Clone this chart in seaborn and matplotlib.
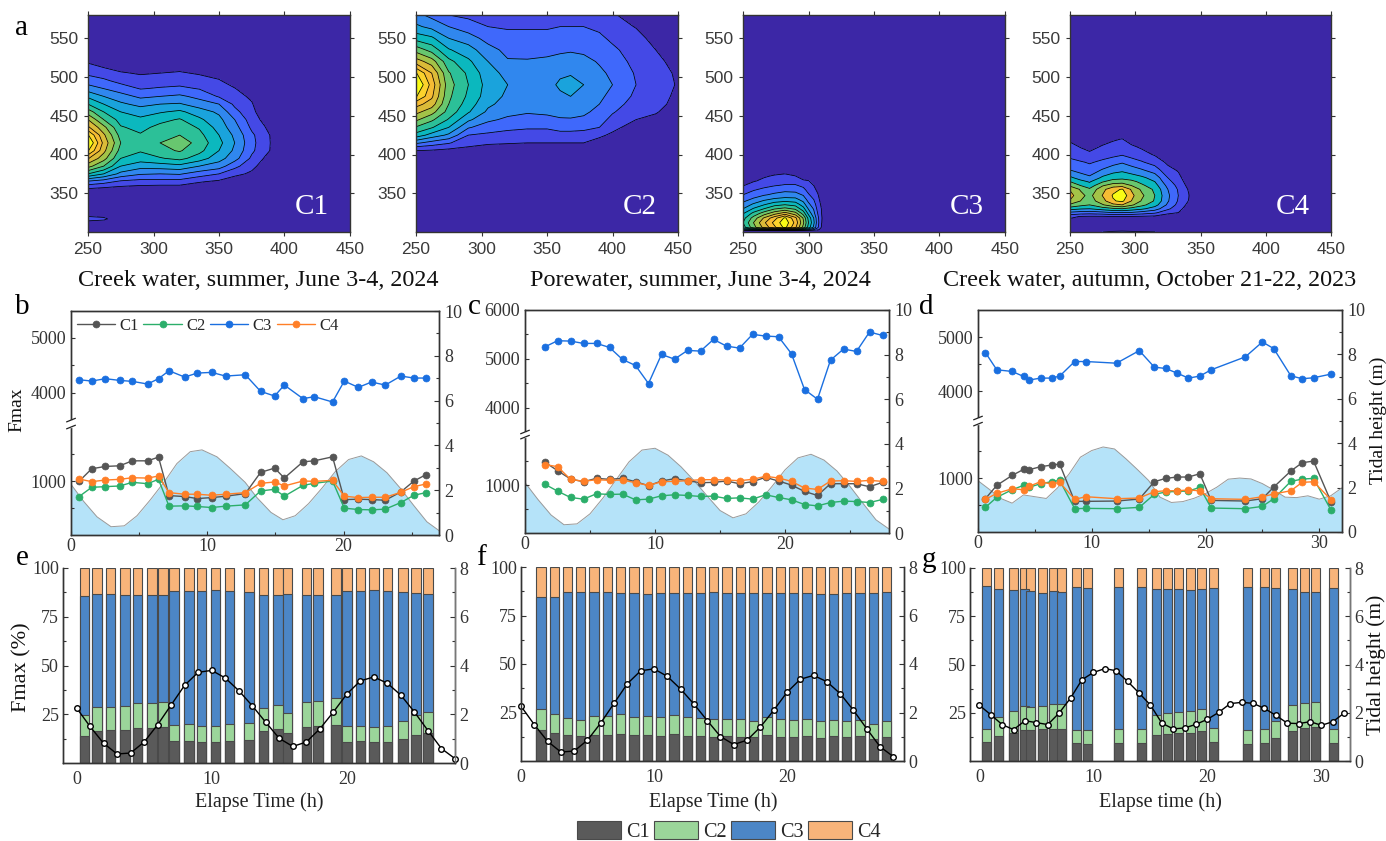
import matplotlib
matplotlib.use('Agg')
import matplotlib.pyplot as plt
from matplotlib.patches import Patch
import numpy as np
import seaborn as sns

W, H = 1386, 841

# ---- EEM surfaces (columns = excitation, in level units)
c1_ex = [250, 262, 275, 290, 305, 320, 335, 350, 362, 375, 385, 395, 450]
c1_em = [300, 310, 317, 325, 345, 355, 365, 375, 385, 395, 405, 415, 425, 435, 445, 455, 465, 475, 485, 495, 505, 515, 525, 580]
c1_z = [
    [0, 0, 1.6, 0, 0, .8, 2.8, 6, 8.4, 10.1, 12.1, 13.2, 12.1, 10.2, 9, 7.5, 6, 4.8, 3.5, 2.5, 1.8, 1.2, .5, 0],
    [0, 0, 1.3, 0, 0, .6, 2.4, 5, 7, 8.4, 9.3, 9.7, 9.2, 8.3, 7, 6, 5, 4, 3, 2.2, 1.5, .8, .2, 0],
    [0, 0, 0, 0, 0, .5, 1.8, 3.7, 5, 6, 6.6, 7, 6.6, 6.1, 5.6, 5, 4.2, 3.4, 2.5, 1.7, 1.1, .5, 0, 0],
    [0, 0, 0, 0, 0, .4, 1.6, 3.1, 4.4, 5.5, 6.1, 6.4, 6.1, 5.7, 5.2, 4.6, 3.7, 2.8, 1.95, 1.4, .9, .3, 0, 0],
    [0, 0, 0, 0, 0, .3, 1.6, 3, 4.5, 5.9, 6.7, 7, 6.7, 6.3, 5.7, 4.9, 4, 3, 2.1, 1.5, 1, .5, 0, 0],
    [0, 0, 0, 0, 0, .3, 1.6, 3.1, 4.7, 6.3, 7.1, 7.6, 7, 6.5, 6.1, 5.2, 4.1, 3.2, 2.2, 1.6, 1.1, .6, 0, 0],
    [0, 0, 0, 0, 0, .1, 1.1, 2.5, 4, 5.5, 6.3, 6.6, 6.3, 5.9, 5.2, 4.5, 3.5, 2.7, 1.95, 1.4, .9, .3, 0, 0],
    [0, 0, 0, 0, 0, 0, .8, 2, 3.5, 4.4, 5, 5.3, 5, 4.6, 4.3, 3.8, 3, 1.9, 1.5, 1.1, .6, .1, 0, 0],
    [0, 0, 0, 0, 0, 0, .3, 1.3, 2.3, 3.4, 3.8, 4, 3.8, 3.4, 3, 2.3, 1.8, 1.4, 1.05, .5, 0, 0, 0, 0],
    [0, 0, 0, 0, 0, 0, 0, .8, 1.3, 1.8, 2.2, 2.3, 2.2, 1.8, 1.5, 1.3, 1.1, .8, .3, 0, 0, 0, 0, 0],
    [0, 0, 0, 0, 0, 0, 0, .1, .5, .9, 1.3, 1.35, 1.3, 1.05, .7, .3, 0, 0, 0, 0, 0, 0, 0, 0],
    [0, 0, 0, 0, 0, 0, 0, 0, 0, 0, .5, .5, .5, 0, 0, 0, 0, 0, 0, 0, 0, 0, 0, 0],
    [0, 0, 0, 0, 0, 0, 0, 0, 0, 0, 0, 0, 0, 0, 0, 0, 0, 0, 0, 0, 0, 0, 0, 0],
]

c2_ex = [250, 262, 275, 290, 305, 320, 335, 350, 360, 368, 378, 390, 400, 418, 433, 447, 450]
c2_em = [300, 400, 405, 410, 415, 425, 435, 445, 455, 465, 475, 490, 505, 520, 535, 550, 565, 580]
c2_z = [
    [0, 0, 1, 2, 3.2, 5.6, 6.9, 8.2, 9.3, 10.4, 12.1, 13.2, 12.1, 9.5, 7.6, 5.6, 4.2, 3.3],
    [0, 0, .9, 1.7, 2.6, 4.6, 6.1, 7.2, 8.4, 9.5, 10.2, 10.6, 10, 8.5, 6.6, 5.2, 3.7, 2.7],
    [0, 0, .7, 1.4, 2.1, 3.8, 5, 5.9, 6.6, 7, 7.2, 7.4, 7.1, 6.3, 5.1, 4, 3, 2],
    [0, 0, .4, 1, 1.3, 2, 3.1, 4.2, 5.1, 5.5, 5.8, 6, 5.8, 5.2, 4.4, 3.5, 2.4, 1.8],
    [0, 0, 0, .7, 1.2, 1.8, 2.5, 3.2, 3.8, 4.2, 4.5, 4.6, 4.4, 4, 3.4, 2.6, 2, 1.7],
    [0, 0, 0, .6, 1.1, 1.7, 2.2, 2.8, 3.3, 3.6, 3.8, 4, 3.7, 3.1, 2.7, 2.3, 1.9, 1.6],
    [0, 0, 0, .5, 1, 1.6, 2.1, 2.6, 3.1, 3.4, 3.6, 3.7, 3.5, 3.1, 2.6, 2.3, 1.9, 1.6],
    [0, 0, 0, .5, 1, 1.6, 2.1, 2.7, 3.2, 3.5, 3.7, 3.8, 3.6, 3.2, 2.7, 2.3, 1.9, 1.6],
    [0, 0, 0, .5, 1, 1.7, 2.3, 2.9, 3.3, 3.6, 3.9, 4.1, 3.9, 3.4, 2.8, 2.4, 2, 1.6],
    [0, 0, 0, .5, 1, 1.7, 2.3, 2.9, 3.4, 3.7, 4, 4.4, 3.9, 3.4, 2.9, 2.4, 2, 1.6],
    [0, 0, 0, .5, 1, 1.7, 2.2, 2.8, 3.2, 3.5, 3.8, 4, 3.8, 3.3, 2.8, 2.4, 2, 1.5],
    [0, 0, 0, 0, .6, 1.2, 2, 2.4, 2.7, 3, 3.2, 3.4, 3.2, 2.9, 2.5, 2.2, 1.8, 1.3],
    [0, 0, 0, 0, .2, .8, 1.3, 1.7, 2.1, 2.4, 2.7, 3, 2.8, 2.5, 2.2, 1.8, 1.4, 1.1],
    [0, 0, 0, 0, 0, 0, .5, 1, 1.3, 1.6, 1.8, 2, 1.9, 1.7, 1.5, 1.3, .95, .6],
    [0, 0, 0, 0, 0, 0, .4, .7, 1.1, 1.3, 1.4, 1.5, 1.4, 1.2, 1, .7, .4, .2],
    [0, 0, 0, 0, 0, 0, 0, .2, .5, .8, .9, 1.02, .95, .8, .6, .3, .1, 0],
    [0, 0, 0, 0, 0, 0, 0, .1, .4, .7, .8, .9, .8, .7, .5, .2, 0, 0],
]

c3_ex = [250, 258, 266, 274, 282, 290, 296, 300, 304, 307, 310, 316, 450]
c3_em = [301.5, 303, 306, 312, 318, 324, 330, 336, 342, 348, 354, 360, 366, 372, 378, 390, 580]
c3_z = [
    [0, 3, 5.5, 6, 5.6, 4.9, 4, 3.3, 2.6, 2, 1.5, .95, .5, 0, 0, 0, 0],
    [0, 4, 7.6, 8, 7.4, 6.3, 5.1, 4.1, 3.2, 2.5, 1.95, 1.4, .9, .4, 0, 0, 0],
    [0, 5, 9.3, 9.8, 9.1, 7.5, 6, 4.8, 3.8, 2.9, 2.3, 1.7, 1.2, .9, .3, 0, 0],
    [0, 6, 10.8, 11.3, 10.6, 8.6, 6.9, 5.5, 4.2, 3.2, 2.6, 1.95, 1.5, 1.1, .7, 0, 0],
    [0, 7, 12.3, 12.7, 12.2, 9.5, 7.3, 5.8, 4.4, 3.4, 2.8, 2.1, 1.6, 1.2, .8, 0, 0],
    [0, 6, 10.2, 10.7, 10.3, 8.4, 6.8, 5.5, 4.3, 3.4, 2.7, 2.1, 1.6, 1.05, .3, 0, 0],
    [0, 4, 7.7, 8.2, 7.9, 6.6, 5.4, 4.4, 3.6, 2.9, 2.3, 1.8, 1.2, .3, 0, 0, 0],
    [0, 3, 5.6, 6, 5.7, 4.7, 3.9, 3.2, 2.6, 2.1, 1.7, 1.35, 1.05, 0, 0, 0, 0],
    [0, 2, 3.8, 4.2, 4, 3.3, 2.9, 2.4, 2, 1.6, 1.3, 1, .5, 0, 0, 0, 0],
    [0, 1.3, 2.2, 2.4, 2.3, 2, 1.7, 1.5, 1.3, 1.1, .8, .4, 0, 0, 0, 0, 0],
    [0, .5, .9, 1.02, 1.05, 1, .95, .8, .6, .4, .2, 0, 0, 0, 0, 0, 0],
    [0, 0, 0, 0, 0, 0, 0, 0, 0, 0, 0, 0, 0, 0, 0, 0, 0],
    [0, 0, 0, 0, 0, 0, 0, 0, 0, 0, 0, 0, 0, 0, 0, 0, 0],
]

c4_ex = [250, 258, 265, 275, 283, 290, 297, 305, 315, 325, 333, 341, 345, 450]
c4_em = [300, 305, 315, 320, 325, 330, 335, 340, 347, 355, 360, 365, 370, 380, 390, 400, 410, 420, 430, 580]
c4_z = [
    [0, 0, .7, 1.3, 2.8, 4.4, 5.8, 6.9, 7.4, 6.9, 5.8, 5, 4.2, 3, 2.3, 1.7, 1.3, .8, 0, 0],
    [0, 0, .3, .95, 2.6, 4.1, 5.3, 6, 6.3, 5.9, 5, 4.3, 3.6, 2.6, 2.1, 1.4, .95, .4, 0, 0],
    [0, 0, .3, .9, 2.5, 4, 5, 5.5, 5.7, 5.2, 4.4, 3.9, 3.2, 2.4, 1.9, 1.2, .7, .2, 0, 0],
    [1, 0, .4, .9, 2.7, 4.5, 5.9, 6.6, 7.05, 6.7, 5.9, 4.9, 4.2, 3.1, 2.2, 1.6, 1.1, .6, 0, 0],
    [1.2, 0, .5, 1, 3, 4.8, 6.7, 7.9, 8.1, 7.7, 6.5, 5.5, 4.6, 3.6, 2.6, 1.7, 1.25, .9, 0, 0],
    [1.3, 0, .5, 1, 3, 5, 7, 8.2, 8.7, 8.1, 6.6, 5.6, 4.7, 3.8, 2.9, 1.9, 1.4, 1.02, 0, 0],
    [1.2, 0, .5, .95, 2.9, 4.6, 6.2, 7, 7.3, 6.9, 6, 5.3, 4.5, 3.5, 2.5, 1.6, 1.15, .6, 0, 0],
    [1.1, 0, .4, .9, 2.6, 4.2, 5.3, 5.9, 6.2, 5.8, 5.2, 4.7, 4.2, 3.1, 2.1, 1.35, .85, .2, 0, 0],
    [1.05, 0, 0, .8, 2.2, 3.5, 4.4, 4.9, 5, 4.8, 4.4, 4, 3.6, 2.5, 1.6, .9, .4, 0, 0, 0],
    [0, 0, 0, .4, 1.3, 2.2, 2.8, 3.1, 3.2, 3, 2.7, 2.3, 2, 1.3, .8, .3, 0, 0, 0, 0],
    [0, 0, 0, 0, 1, 1.4, 1.7, 1.9, 2, 1.9, 1.7, 1.5, 1.3, .9, .4, 0, 0, 0, 0, 0],
    [0, 0, 0, 0, 0, .4, .7, .95, 1.05, .9, .7, .5, .3, 0, 0, 0, 0, 0, 0, 0],
    [0, 0, 0, 0, 0, 0, 0, 0, 0, 0, 0, 0, 0, 0, 0, 0, 0, 0, 0, 0],
    [0, 0, 0, 0, 0, 0, 0, 0, 0, 0, 0, 0, 0, 0, 0, 0, 0, 0, 0, 0],
]

# ---- tide
tide_summer = [2.26, 1.5, .81, .37, .41, .86, 1.57, 2.38, 3.19, 3.72, 3.8, 3.49, 2.97, 2.35, 1.67, 1.01, .68, .86, 1.4,
               2.09, 2.83, 3.37, 3.53, 3.27, 2.78, 2.09, 1.33, .59, .18]
tide_hours_e = list(range(29))
tide_hours_b = [0, .93, 1.91, 2.94, 3.91, 4.84, 5.82, 6.85, 7.77, 8.75, 9.61, 10.71, 11.69, 12.78, 13.64, 14.67, 15.55,
                16.45, 17.43, 18.41, 19.39, 20.37, 21.3, 22.2, 23.18, 24.16, 25.13, 26.11, 27.04]
tide_autumn = [2.31, 1.92, 1.51, 1.3, 1.67, 1.59, 1.51, 1.99, 2.61, 3.37, 3.67, 3.83, 3.74, 3.3, 2.82, 2.32, 1.57, 1.33,
               1.37, 1.52, 1.73, 2.02, 2.38, 2.43, 2.39, 2.18, 1.89, 1.57, 1.55, 1.63, 1.48, 1.63, 1.99]
tide_hours_g = list(range(33))

# ---- Fmax, creek water summer (b)
b_hours = [.59, 1.52, 2.52, 3.57, 4.5, 5.62, 6.42, 7.19, 8.34, 9.27, 10.32, 11.34, 12.79, 13.91, 14.94, 15.65, 17.02,
           17.85, 19.19, 20.05, 21.08, 22.05, 23.06, 24.2, 25.16, 26.04]
b_c1 = [994, 1227, 1270, 1282, 1374, 1374, 1442, 730, 712, 675, 693, 718, 767, 1160, 1239, 1055, 1356, 1374, 1448, 656,
        663, 656, 644, 798, 1000, 1117]
b_c2 = [712, 883, 896, 908, 975, 951, 1031, 534, 540, 528, 509, 534, 558, 816, 847, 718, 920, 957, 1000, 497, 472, 466,
        479, 601, 736, 785]
b_c3 = [4236, 4212, 4255, 4224, 4206, 4158, 4255, 4400, 4285, 4358, 4370, 4303, 4327, 4024, 3939, 4139, 3891, 3927,
        3830, 4212, 4097, 4194, 4139, 4303, 4267, 4267]
b_c4 = [1037, 988, 1018, 1031, 1061, 1055, 1092, 785, 755, 755, 736, 755, 785, 957, 982, 908, 1000, 994, 1012, 718, 693,
        699, 699, 791, 896, 945]

# ---- Fmax, porewater summer (c)
c_hours = [1.5, 2.5, 3.5, 4.5, 5.5, 6.5, 7.5, 8.5, 9.5, 10.5, 11.5, 12.5, 13.5, 14.5, 15.5, 16.5, 17.5, 18.5, 19.5, 20.5,
           21.5, 22.5, 23.5, 24.5, 25.5, 26.5, 27.5]
c_c1 = [1483, 1301, 1126, 1070, 1140, 1119, 1140, 1070, 986, 1084, 1133, 1091, 1049, 1056, 1084, 1028, 1070, 1161, 1084,
        1000, 867, 783, 1028, 1028, 1028, 965, 1056]
c_c2 = [1021, 874, 741, 706, 818, 804, 811, 692, 706, 776, 797, 783, 762, 769, 720, 734, 706, 797, 741, 692, 594, 566,
        636, 664, 657, 636, 699]
c_c3 = [5240, 5370, 5363, 5315, 5315, 5233, 4986, 4863, 4493, 5089, 4993, 5171, 5158, 5397, 5260, 5219, 5500, 5466, 5452,
        5103, 4370, 4171, 4973, 5199, 5151, 5548, 5479]
c_c4 = [1427, 1385, 1119, 1077, 1112, 1098, 1105, 1049, 993, 1070, 1077, 1091, 1112, 1112, 1105, 1091, 1119, 1182, 1147,
        1077, 937, 909, 1084, 1091, 1077, 1098, 1077]

# ---- Fmax, creek water autumn (d)
d_hours = [.65, 1.65, 3.0, 4.0, 4.47, 5.5, 6.47, 7.18, 8.5, 9.47, 12.18, 14.18, 15.5, 16.5, 17.5, 18.5, 19.5, 20.5, 23.5,
           25.0, 26.0, 27.5, 28.5, 29.5, 31.03]
d_c1 = [617, 864, 1049, 1160, 1154, 1210, 1241, 1259, 568, 568, 574, 611, 932, 994, 1019, 1019, 1080, 586, 574, 617, 833,
        1130, 1284, 1315, 562]
d_c2 = [457, 642, 784, 864, 827, 895, 932, 957, 432, 438, 432, 457, 698, 741, 753, 759, 827, 444, 432, 475, 617, 938, 981,
        994, 407]
d_c3 = [4712, 4393, 4362, 4270, 4202, 4239, 4239, 4276, 4546, 4546, 4515, 4748, 4442, 4417, 4331, 4239, 4276, 4393, 4632,
        4908, 4785, 4282, 4227, 4245, 4313]
d_c4 = [605, 716, 802, 784, 846, 932, 889, 920, 605, 654, 617, 630, 747, 765, 765, 778, 765, 617, 605, 654, 704, 765, 920,
        932, 599]

# ---- cumulative percentages (top of C1, of C1+C2, of C1+C2+C3)
e_hours = [.59, 1.51, 2.52, 3.58, 4.52, 5.6, 6.4, 7.2, 8.32, 9.26, 10.3, 11.33, 12.77, 13.85, 14.91, 15.6, 17.0, 17.85,
           19.19, 20.0, 21.0, 22.0, 23.0, 24.17, 25.1, 26.0]
e_top1 = [14, 16.6, 17, 17, 18, 18, 18.3, 11.3, 11.3, 10.8, 11, 11.3, 11.8, 16.4, 17.5, 15.4, 18.7, 18.8, 19.5, 11, 11.3,
          10.8, 10.8, 12.3, 14.4, 15.4]
e_top2 = [24.5, 28.6, 28.6, 29.1, 30.7, 30.7, 31.3, 19.4, 19.9, 18.8, 18.8, 19.9, 20.4, 28.1, 29.5, 25.5, 31.5, 31.7, 33.2,
          18.8, 18.8, 18.3, 18.8, 21.4, 24.8, 26.4]
e_top3 = [85.4, 86.8, 86.5, 86.3, 86.3, 86.3, 86.3, 88.2, 88.4, 88.4, 88.9, 88.4, 87.9, 86.3, 86.3, 86.8, 86.3, 86.3, 86.3,
          88.4, 88.4, 88.5, 88.4, 87.9, 87.3, 86.8]

f_hours = c_hours
f_top1 = [16, 14.4, 13.4, 13, 13.4, 13.4, 14, 13.4, 13.4, 13, 13.9, 13, 12.9, 12.5, 12.9, 12.2, 12.5, 13.4, 12.5, 12.4,
          12.7, 11.9, 12.9, 12.5, 12.9, 11.3, 12.4]
f_top2 = [26.8, 24.2, 22.2, 21.3, 23.2, 23, 24.2, 22.7, 23.2, 22.7, 23.7, 22.7, 22.2, 21.6, 21.6, 21.6, 20.6, 22.5, 21.5,
          21.1, 21.6, 20.6, 21.1, 20.8, 21, 19.1, 20.8]
f_top3 = [84.7, 84.7, 86.9, 87.1, 87.1, 86.9, 86.6, 86.6, 86.3, 86.8, 86.6, 86.6, 86.6, 86.9, 86.6, 86.6, 86.8, 86.6, 86.6,
          86.6, 86.4, 86.1, 86.1, 86.6, 86.6, 86.8, 87.3]

g_hours = d_hours
g_top1 = [9.8, 13, 14.7, 16.1, 16.1, 16.4, 16.6, 16.8, 9.3, 9, 9.3, 9.3, 13.5, 14, 14.5, 14.7, 15.5, 9.7, 9, 9.3, 11.9,
          15.5, 17.1, 17.4, 9.3]
g_top2 = [16.6, 22.6, 25.7, 28.3, 27.8, 28.7, 29.5, 29.5, 16.2, 15.9, 16.4, 16.4, 23.7, 24.7, 25.4, 25.7, 26.9, 16.9, 15.9,
          16.4, 20.6, 28.8, 30, 30.4, 16.4]
g_top3 = [90.5, 89.1, 88.6, 89.1, 88.1, 87, 88.1, 87.6, 90, 89.5, 90, 90, 89.1, 89.1, 88.9, 88.4, 89.1, 89.6, 90, 90, 89.6,
          89.1, 87.6, 87.6, 89.6]

parula = ['#3C27A6', '#4449E6', '#3F68FB', '#3087EE', '#1AA3DC', '#0BB8BE', '#2CC098', '#68C76F', '#A3C348', '#DBBB38',
          '#F6BC34', '#FCD22C', '#F9FB15']
line_cols = {'C1': '#555555', 'C2': '#2BAE6A', 'C3': '#1A6FE0', 'C4': '#FF7F27'}
bar_cols = {'C1': '#5A5A5A', 'C2': '#9BD59A', 'C3': '#4C86C6', 'C4': '#F8B47A'}
sans = 'Liberation Sans'

sns.set_theme(style='ticks')
plt.rcParams['font.family'] = ['Liberation Serif', 'DejaVu Serif']
plt.rcParams['axes.edgecolor'] = '#333333'
plt.rcParams['axes.linewidth'] = 1.0
plt.rcParams['xtick.color'] = '#333333'
plt.rcParams['ytick.color'] = '#333333'

fig = plt.figure(figsize=(W / 100, H / 100), dpi=100, facecolor='white')


def box(left, top, right, bottom):
    return fig.add_axes([left / W, 1 - bottom / H, (right - left) / W, (bottom - top) / H])


def eem(pos, ex, em, z, name, levels, colors):
    ax = box(*pos)
    ax.set_facecolor(parula[0])
    z = np.array(z).T
    ax.contourf(ex, em, z, levels=levels, colors=colors)
    ax.contour(ex, em, z, levels=levels[1:-1], colors='black', linewidths=0.55)
    ax.set_xlim(250, 450)
    ax.set_ylim(300, 580)
    ax.set_xticks([250, 300, 350, 400, 450])
    ax.set_yticks([350, 400, 450, 500, 550])
    ax.tick_params(top=True, right=True, length=3, width=0.8, labelsize=12.5, labelcolor='#3a3a3a',
                   labelfontfamily=sans, pad=4)
    ax.text(0.92, 0.115, name, transform=ax.transAxes, color='white', fontsize=21, ha='right', va='center')
    return ax


def fmax_panel(pos, hours, c1, c2, c3, c4, tide_x, tide_y, top, f1, f2, xmax, xticks, yticks, legend=False):
    ax = box(*pos)
    tw = ax.twinx()
    tw.fill_between(tide_x, tide_y, color='#B5E3F9', lw=0)
    tw.plot(tide_x, tide_y, color='#999999', lw=0.7)
    tw.set_ylim(0, 10)
    tw.set_yticks([0, 2, 4, 6, 8, 10])
    tw.set_yticks([1, 3, 5, 7, 9], minor=True)
    tw.tick_params(axis='y', which='major', direction='in', length=3.5, width=0.8, labelsize=13, pad=4)
    tw.tick_params(axis='y', which='minor', direction='in', length=2, width=0.8)
    tw.grid(False)
    ax.set_zorder(tw.get_zorder() + 1)
    ax.patch.set_visible(False)

    for name, vals in zip(['C1', 'C2', 'C3', 'C4'], [c1, c2, c3, c4]):
        sns.lineplot(x=hours, y=vals, color=line_cols[name], marker='o', ms=5, mec=line_cols[name], mew=0.5, lw=1,
                     errorbar=None, sort=False, label=name, legend=False, ax=ax)

    # broken axis: piecewise linear scale, 2000-3500 squeezed
    xp = [-2000, 0, 2000, 3500, top, top + 2000]
    fp = [-f1, 0, f1, f2, 1, 1 + (1 - f2) * 2000 / (top - 3500)]
    ax.set_yscale('function', functions=(lambda v: np.interp(v, xp, fp), lambda v: np.interp(v, fp, xp)))
    ax.set_ylim(0, top)
    ax.set_xlim(0, xmax)
    ax.set_yticks(yticks, [str(v) for v in yticks])
    ax.set_yticks([500, 1500, 4500] + ([5500] if top > 5500 else []), minor=True)
    ax.set_xticks(xticks)
    ax.set_xticks([v + 5 for v in xticks if v + 5 < xmax], minor=True)
    ax.tick_params(axis='y', which='major', direction='in', length=3, width=0.8, labelsize=13, pad=3.5)
    ax.tick_params(axis='y', which='minor', direction='in', length=2, width=0.8)
    ax.tick_params(axis='x', which='major', direction='in', length=3, width=0.8, labelsize=13, pad=2)
    ax.tick_params(axis='x', which='minor', direction='in', length=2, width=0.8)
    ax.set_xlabel('')
    ax.set_ylabel('')
    ax.grid(False)

    ax.plot([0, 0], [f1 + .005, f2 - .005], transform=ax.transAxes, color='white', lw=2.5, clip_on=False, zorder=6)
    for off in (f1, f2):
        ax.plot([-0.012, 0.012], [off - .008, off + .008], transform=ax.transAxes, color='#222222', lw=0.9,
                clip_on=False, zorder=7)
    if legend:
        ax.legend(loc='upper left', bbox_to_anchor=(0.015, 0.97), ncol=4, frameon=False, fontsize=12, borderpad=0,
                  borderaxespad=0, handlelength=2.3, handletextpad=0.25, columnspacing=0.3)
    return ax


def share_panel(pos, hours, top1, top2, top3, bar_w, tide_x, tide_y, xlim, xticks, xlabel_text, right_col='#777777'):
    ax = box(*pos)
    w = bar_w / np.min(np.diff(np.unique(hours)))
    for name, tops in [('C4', [100] * len(hours)), ('C3', top3), ('C2', top2), ('C1', top1)]:
        sns.barplot(x=hours, y=tops, native_scale=True, color=bar_cols[name], saturation=1, width=w, errorbar=None,
                    edgecolor='#4a4a4a', linewidth=0.8, ax=ax)
    ax.set_xlim(*xlim)
    ax.set_ylim(0, 100)
    ax.set_xticks(xticks)
    ax.set_yticks([25, 50, 75, 100], ['25', '50', '75', '100'])
    ax.set_yticks([12.5, 37.5, 62.5, 87.5], minor=True)
    ax.tick_params(axis='y', which='major', direction='in', length=3.5, width=0.8, labelsize=13, pad=3)
    ax.tick_params(axis='y', which='minor', direction='in', length=2, width=0.8)
    ax.tick_params(axis='x', length=0, labelsize=13, pad=6)
    ax.spines['top'].set_visible(False)
    ax.set_xlabel('')
    ax.set_ylabel('')

    tw = ax.twinx()
    sns.lineplot(x=tide_x, y=tide_y, color='black', marker='o', ms=4, mfc='white', mec='black', mew=1, lw=1,
                 errorbar=None, sort=False, legend=False, ax=tw, clip_on=False)
    tw.set_ylim(0, 8)
    tw.set_yticks([0, 2, 4, 6, 8])
    tw.set_yticks([1, 3, 5, 7], minor=True)
    tw.tick_params(axis='y', which='major', direction='in', length=3.5, width=0.8, labelsize=13, pad=3)
    tw.tick_params(axis='y', which='minor', direction='in', length=2, width=0.8)
    tw.spines['top'].set_visible(False)
    tw.spines['right'].set_color(right_col)
    tw.set_ylabel('')
    tw.grid(False)
    fig.text(xlabel_text[0] / W, 1 - 802 / H, xlabel_text[1], fontsize=14.5, ha='center', va='center', color='#222222')
    return ax


# ---- top row
lev_12 = [-1] + list(range(1, 13)) + [14]
eem((88, 15, 350, 232), c1_ex, c1_em, c1_z, 'C1', lev_12, parula)
eem((416, 15, 678, 232), c2_ex, c2_em, c2_z, 'C2', lev_12, parula)
eem((743, 15, 1005, 232), c3_ex, c3_em, c3_z, 'C3', lev_12, parula)
lev_8 = [-1] + list(range(1, 9)) + [10]
eem((1070, 15, 1331, 232), c4_ex, c4_em, c4_z, 'C4', lev_8,
    [parula[i] for i in [0, 1, 2, 3, 5, 7, 8, 10, 12]])

for x, txt in [(258.5, 'Creek water, summer, June 3-4, 2024'), (700, 'Porewater, summer, June 3-4, 2024'),
               (1150, 'Creek water, autumn, October 21-22, 2023')]:
    fig.text(x / W, 1 - 281 / H, txt, fontsize=17.4, ha='center', va='center', color='#111111')

# ---- middle row
fmax_panel((71, 311, 439, 535), b_hours, b_c1, b_c2, b_c3, b_c4, tide_hours_b, tide_summer, 5490, .482, .513, 27,
           [0, 10, 20], [1000, 4000, 5000], legend=True)
fmax_panel((525, 310, 889, 533), c_hours, c_c1, c_c2, c_c3, c_c4, tide_hours_e, tide_summer, 6000, .43, .453, 28,
           [0, 10, 20], [1000, 4000, 5000, 6000])
fmax_panel((978, 310, 1342, 532), d_hours, d_c1, d_c2, d_c3, d_c4, tide_hours_g, tide_autumn, 5500, .486, .5135, 32,
           [0, 10, 20, 30], [1000, 4000, 5000])

# ---- bottom row
share_panel((63, 568, 455, 763), e_hours, e_top1, e_top2, e_top3, .7, tide_hours_e, tide_summer, (-1, 28), [0, 10, 20],
            (259, 'Elapse Time (h)'))
share_panel((521, 567, 904, 761), f_hours, f_top1, f_top2, f_top3, .7, tide_hours_e, tide_summer, (0, 28.8),
            [0, 10, 20], (713, 'Elapse Time (h)'), right_col='#333333')
share_panel((970, 568, 1350, 761), g_hours, g_top1, g_top2, g_top3, .79, tide_hours_g, tide_autumn, (-.82, 32.5),
            [0, 10, 20, 30], (1160, 'Elapse time (h)'))

# ---- free text
fig.text(17 / W, 1 - 410 / H, 'Fmax', fontsize=14, rotation=90, ha='center', va='center', color='#111111')
fig.text(22 / W, 1 - 667 / H, 'Fmax (%)', fontsize=16, rotation=90, ha='center', va='center', color='#111111')
fig.text(1378 / W, 1 - 420 / H, 'Tidal height (m)', fontsize=14, rotation=90, ha='center', va='center', color='#111111')
fig.text(1376 / W, 1 - 665 / H, 'Tidal height (m)', fontsize=15.5, rotation=90, ha='center', va='center', color='#111111')

for txt, x, y in [('a', 21, 28), ('b', 22, 307), ('c', 474, 307), ('d', 926, 307), ('e', 22, 558), ('f', 481, 558),
                  ('g', 929, 560)]:
    fig.text(x / W, 1 - y / H, txt, fontsize=21, ha='center', va='center', color='black')

handles = [Patch(facecolor=bar_cols[k], edgecolor='#4a4a4a', lw=0.8, label=k) for k in ['C1', 'C2', 'C3', 'C4']]
fig.legend(handles=handles, loc='lower left', bbox_to_anchor=(577 / W, -1 / H), ncol=4, frameon=False, fontsize=14.5,
           borderpad=0, borderaxespad=0, handlelength=2.2, handleheight=1.05, handletextpad=0.25, columnspacing=0.2)

fig.savefig('out.png', dpi=100)
plt.close(fig)
